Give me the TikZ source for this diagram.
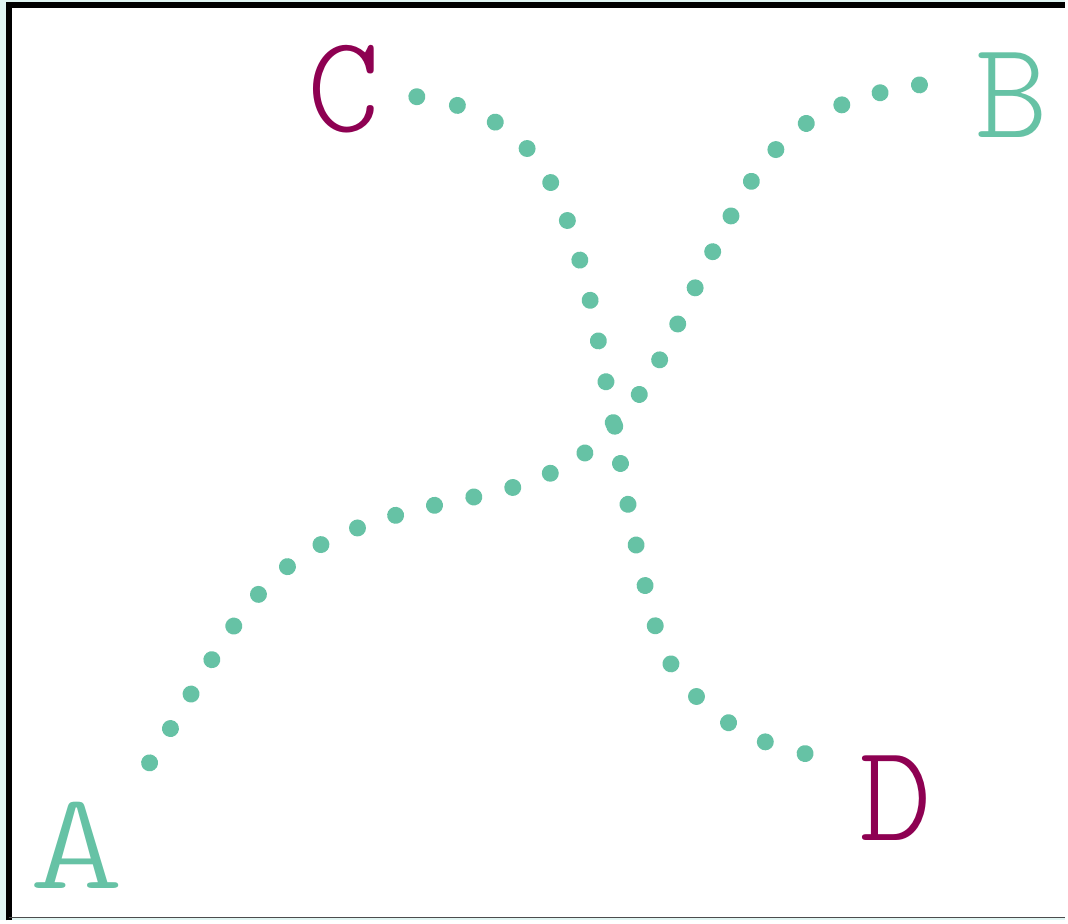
\documentclass[tikz,border=0pt]{standalone}
\usetikzlibrary{decorations.markings}
\definecolor{setteal}{HTML}{66C2A5}
\definecolor{setplum}{HTML}{8E0152}
\definecolor{paleedge}{HTML}{E0F5F2}
\tikzset{
  letter/.style={inner sep=0pt, font=\ttfamily\fontseries{l}\fontsize{139}{139}\selectfont},
  dotrow/.style={
    decoration={markings,
      mark=between positions 0 and 1 step #1 with {\fill[setteal] (0,0) circle (8.5pt);}},
    postaction={decorate}}
}
\begin{document}
\begin{tikzpicture}[x=1pt, y=-1pt]
% frame
\fill[paleedge] (0,0) rectangle (1068,923);
\fill[white] (9,6) rectangle (1068,920);
\draw[line width=6pt] (9,923) -- (9,5.5) -- (1068,5.5);
\draw[black!70, line width=1.5pt] (9,920) -- (1068,920);

% end labels
\node[letter, text=setteal] (A) at (77,848) {\scalebox{1.3}[1]{A}};
\node[letter, text=setteal] (B) at (1015,95) {B};
\node[letter, text=setplum] (C) at (345,89) {C};
\node[letter, text=setplum] (D) at (898,800) {D};

% ends of the dotted curves
\coordinate (a) at (150,765);
\coordinate (b) at (923,85);
\coordinate (c) at (418,97);
\coordinate (d) at (809,756);

\path[dotrow=0.0370] (a) .. controls (258,590) and (261,540) .. (477,498)
  .. controls (614,471) and (643,401) .. (695,293)
  .. controls (760,158) and (784,107) .. (b);
\path[dotrow=0.0499] (c) .. controls (537,113) and (564,186) .. (592,302)
  .. controls (616,415) and (630,535) .. (662,645)
  .. controls (686,700) and (740,743) .. (d);
\end{tikzpicture}
\end{document}
